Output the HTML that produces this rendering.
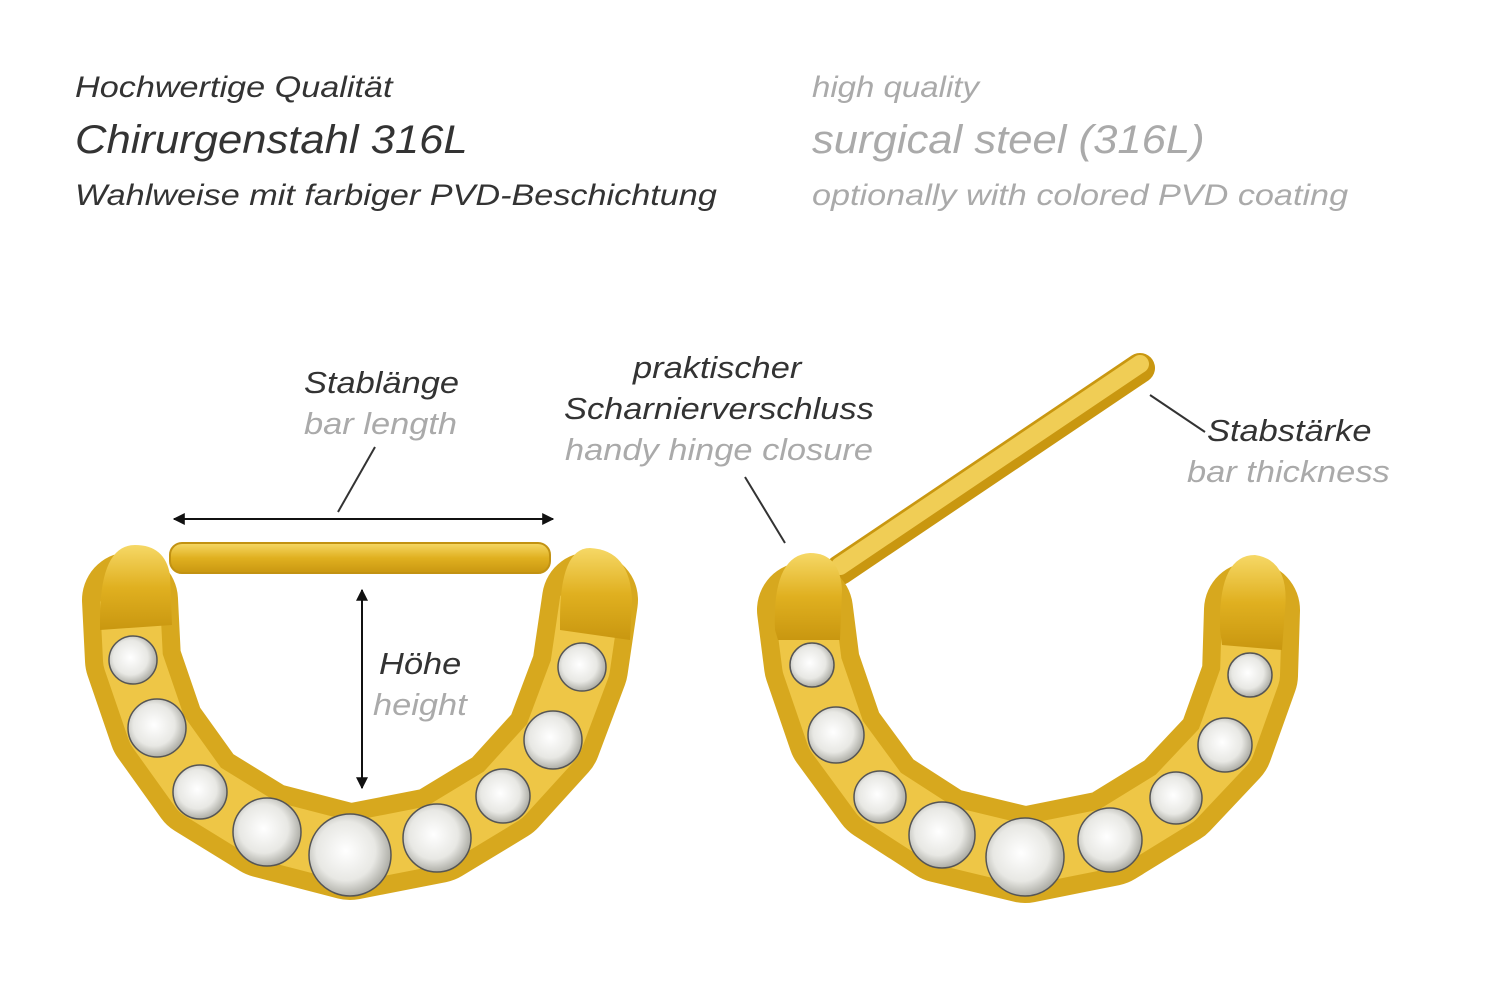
<!DOCTYPE html>
<html><head><meta charset="utf-8"><style>
html,body{margin:0;padding:0;background:#fff;}
body{width:1500px;height:1001px;position:relative;overflow:hidden;font-family:"Liberation Sans",sans-serif;font-style:italic;}
.t{position:absolute;white-space:nowrap;line-height:1;transform-origin:0 0;transform:scaleX(1.11);}
.d{color:#333;}.g{color:#aaa;}
</style></head><body>
<div class="t d" style="left:75px;top:73px;font-size:30px;transform:scaleX(1.14)">Hochwertige Qualität</div>
<div class="t d" style="left:75px;top:120px;font-size:40px;transform:scaleX(1.09)">Chirurgenstahl 316L</div>
<div class="t d" style="left:75px;top:181px;font-size:30px;transform:scaleX(1.14)">Wahlweise mit farbiger PVD-Beschichtung</div>
<div class="t g" style="left:812px;top:73px;font-size:30px;transform:scaleX(1.1)">high quality</div>
<div class="t g" style="left:812px;top:120px;font-size:40px;transform:scaleX(1.09)">surgical steel (316L)</div>
<div class="t g" style="left:812px;top:181px;font-size:30px;transform:scaleX(1.14)">optionally with colored PVD coating</div>

<div class="t d" style="left:304px;top:367px;font-size:31px;">Stablänge</div>
<div class="t g" style="left:304px;top:408px;font-size:31px;">bar length</div>
<div class="t d" style="left:379px;top:648px;font-size:31px;">Höhe</div>
<div class="t g" style="left:373px;top:689px;font-size:31px;">height</div>
<div class="t d" style="left:633px;top:352px;font-size:31px;">praktischer</div>
<div class="t d" style="left:564px;top:393px;font-size:31px;">Scharnierverschluss</div>
<div class="t g" style="left:565px;top:434px;font-size:31px;">handy hinge closure</div>
<div class="t d" style="left:1207px;top:415px;font-size:31px;">Stabstärke</div>
<div class="t g" style="left:1187px;top:456px;font-size:31px;">bar thickness</div>

<svg width="1500" height="1001" style="position:absolute;left:0;top:0">
<defs>
<linearGradient id="gold" x1="0" y1="0" x2="0" y2="1">
<stop offset="0" stop-color="#f6d866"/><stop offset="0.5" stop-color="#e0b020"/><stop offset="1" stop-color="#c99710"/></linearGradient>
<radialGradient id="cr" cx="0.45" cy="0.45" r="0.6">
<stop offset="0" stop-color="#ffffff"/><stop offset="0.6" stop-color="#e8e8e4"/><stop offset="1" stop-color="#a0a098"/></radialGradient>
<marker id="ar" viewBox="0 0 10 10" refX="9" refY="5" markerWidth="6" markerHeight="6" orient="auto-start-reverse"><path d="M0,0 L10,5 L0,10 z" fill="#111"/></marker>
</defs>
<line x1="174" y1="519" x2="553" y2="519" stroke="#111" stroke-width="2" marker-start="url(#ar)" marker-end="url(#ar)"/>
<line x1="362" y1="590" x2="362" y2="788" stroke="#111" stroke-width="2" marker-start="url(#ar)" marker-end="url(#ar)"/>
<line x1="375" y1="447" x2="338" y2="512" stroke="#333" stroke-width="2"/>
<line x1="745" y1="477" x2="785" y2="543" stroke="#333" stroke-width="2"/>
<line x1="1150" y1="395" x2="1205" y2="432" stroke="#333" stroke-width="2"/>

<!-- LEFT piece -->
<rect x="170" y="543" width="380" height="30" rx="12" fill="url(#gold)" stroke="#c29212" stroke-width="2"/>
<polyline points="130,600 133,660 157,730 200,790 265,830 350,852 437,835 503,795 553,740 580,668 590,600" fill="none" stroke="#d7a81e" stroke-width="96" stroke-linejoin="round" stroke-linecap="round"/>
<polyline points="130,600 133,660 157,730 200,790 265,830 350,852 437,835 503,795 553,740 580,668 590,600" fill="none" stroke="#eec646" stroke-width="60" stroke-linejoin="round"/>
<path d="M100,620 Q100,545 135,545 Q165,545 170,575 L172,625 L100,630 Z" fill="url(#gold)"/>
<path d="M560,620 Q560,548 590,548 Q630,550 632,600 L630,640 L560,630 Z" fill="url(#gold)"/>
<g fill="url(#cr)" stroke="#555" stroke-width="1.5">
<circle cx="133" cy="660" r="24"/><circle cx="157" cy="728" r="29"/><circle cx="200" cy="792" r="27"/>
<circle cx="267" cy="832" r="34"/><circle cx="350" cy="855" r="41"/><circle cx="437" cy="838" r="34"/>
<circle cx="503" cy="796" r="27"/><circle cx="553" cy="740" r="29"/><circle cx="582" cy="667" r="24"/>
</g>

<!-- RIGHT piece -->
<line x1="840" y1="570" x2="1140" y2="368" stroke="#c99710" stroke-width="30" stroke-linecap="round"/>
<line x1="840" y1="566" x2="1140" y2="364" stroke="#f0cd55" stroke-width="18" stroke-linecap="round"/>
<polyline points="805,610 812,665 836,735 880,795 942,835 1025,855 1110,838 1175,798 1225,745 1250,675 1252,610" fill="none" stroke="#d7a81e" stroke-width="96" stroke-linejoin="round" stroke-linecap="round"/>
<polyline points="805,610 812,665 836,735 880,795 942,835 1025,855 1110,838 1175,798 1225,745 1250,675 1252,610" fill="none" stroke="#eec646" stroke-width="60" stroke-linejoin="round"/>
<path d="M775,630 Q772,555 810,553 Q840,553 842,590 L840,640 L778,640 Z" fill="url(#gold)"/>
<path d="M1220,630 Q1218,555 1255,555 Q1290,560 1285,610 L1282,650 L1222,645 Z" fill="url(#gold)"/>
<g fill="url(#cr)" stroke="#555" stroke-width="1.5">
<circle cx="812" cy="665" r="22"/><circle cx="836" cy="735" r="28"/><circle cx="880" cy="797" r="26"/>
<circle cx="942" cy="835" r="33"/><circle cx="1025" cy="857" r="39"/><circle cx="1110" cy="840" r="32"/>
<circle cx="1176" cy="798" r="26"/><circle cx="1225" cy="745" r="27"/><circle cx="1250" cy="675" r="22"/>
</g>
</svg>
</body></html>
